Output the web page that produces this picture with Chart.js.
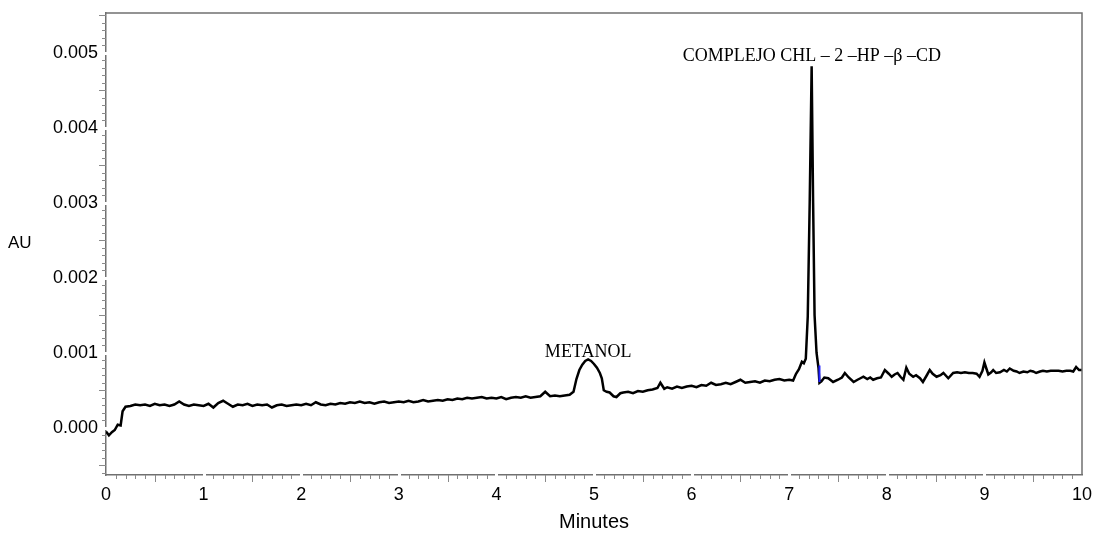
<!DOCTYPE html>
<html>
<head>
<meta charset="utf-8">
<script src="https://cdn.jsdelivr.net/npm/chart.js@4/dist/chart.umd.min.js"></script>
<style>
html, body { margin: 0; padding: 0; background: #fff; }
</style>
</head>
<body>
<canvas id="chart" width="1095" height="533"></canvas>
<script>
// retention time (min) and absorbance (AU)
var minutes = [
  0, 0.03, 0.06, 0.09, 0.12, 0.15, 0.17, 0.20, 0.25, 0.30,
  0.35, 0.40, 0.45, 0.50, 0.55, 0.60, 0.65, 0.70, 0.75, 0.80,
  0.85, 0.90, 0.95, 1.00, 1.05, 1.10, 1.15, 1.20, 1.25, 1.30,
  1.35, 1.40, 1.45, 1.50, 1.55, 1.60, 1.65, 1.70, 1.75, 1.80,
  1.85, 1.90, 1.95, 2.00, 2.05, 2.10, 2.15, 2.20, 2.25, 2.30,
  2.35, 2.40, 2.45, 2.50, 2.55, 2.60, 2.65, 2.70, 2.75, 2.80,
  2.85, 2.90, 2.95, 3.00, 3.05, 3.10, 3.15, 3.20, 3.25, 3.30,
  3.35, 3.40, 3.45, 3.50, 3.55, 3.60, 3.65, 3.70, 3.75, 3.80,
  3.85, 3.90, 3.95, 4.00, 4.05, 4.10, 4.15, 4.20, 4.25, 4.30,
  4.35, 4.40, 4.45, 4.50, 4.55, 4.60, 4.65, 4.70, 4.75, 4.79,
  4.82, 4.85, 4.88, 4.91, 4.94, 4.97, 5.00, 5.03, 5.06, 5.08,
  5.10, 5.13, 5.16, 5.20, 5.23, 5.27, 5.30, 5.35, 5.40, 5.45,
  5.50, 5.55, 5.60, 5.65, 5.68, 5.72, 5.75, 5.80, 5.85, 5.90,
  5.95, 6.00, 6.05, 6.10, 6.15, 6.20, 6.25, 6.30, 6.35, 6.40,
  6.45, 6.50, 6.55, 6.60, 6.65, 6.70, 6.75, 6.80, 6.85, 6.90,
  6.95, 7.00, 7.04, 7.07, 7.10, 7.13, 7.15, 7.17, 7.19, 7.21,
  7.23, 7.245, 7.26, 7.28, 7.30, 7.31, 7.33, 7.36, 7.40, 7.45,
  7.50, 7.54, 7.57, 7.61, 7.66, 7.70, 7.73, 7.76, 7.80, 7.83,
  7.86, 7.90, 7.94, 7.98, 8.02, 8.05, 8.08, 8.11, 8.14, 8.17,
  8.20, 8.23, 8.27, 8.30, 8.34, 8.37, 8.41, 8.44, 8.47, 8.51,
  8.55, 8.58, 8.63, 8.68, 8.72, 8.76, 8.80, 8.84, 8.88, 8.92,
  8.95, 8.98, 9.00, 9.02, 9.04, 9.07, 9.09, 9.12, 9.16, 9.20,
  9.23, 9.26, 9.30, 9.33, 9.36, 9.40, 9.44, 9.47, 9.50, 9.53,
  9.57, 9.60, 9.64, 9.68, 9.72, 9.76, 9.80, 9.84, 9.88, 9.91,
  9.94, 9.97, 10.00
];
var absorbance = [
  -0.00005, -0.00010, -0.00006, -0.00003, 0.00004, 0.00003, 0.00022, 0.00028, 0.00029, 0.00031,
  0.00030, 0.00031, 0.00029, 0.00032, 0.00030, 0.00031, 0.00029, 0.00031, 0.00035, 0.00031,
  0.00029, 0.00031, 0.00030, 0.00029, 0.00032, 0.00027, 0.00033, 0.00036, 0.00032, 0.00028,
  0.00031, 0.00030, 0.00032, 0.00029, 0.00031, 0.00030, 0.00031, 0.00027, 0.00030, 0.00031,
  0.00029, 0.00030, 0.00031, 0.00030, 0.00032, 0.00030, 0.00034, 0.00031, 0.00030, 0.00032,
  0.00031, 0.00033, 0.00032, 0.00034, 0.00033, 0.00035, 0.00033, 0.00034, 0.00032, 0.00034,
  0.00035, 0.00033, 0.00034, 0.00035, 0.00034, 0.00036, 0.00034, 0.00035, 0.00037, 0.00035,
  0.00036, 0.00037, 0.00036, 0.00038, 0.00037, 0.00039, 0.00038, 0.00040, 0.00039, 0.00040,
  0.00041, 0.00039, 0.00040, 0.00039, 0.00041, 0.00038, 0.00040, 0.00041, 0.00040, 0.00042,
  0.00040, 0.00041, 0.00042, 0.00048, 0.00042, 0.00043, 0.00042, 0.00043, 0.00044, 0.00048,
  0.00065, 0.00077, 0.00084, 0.00089, 0.00091, 0.00089, 0.00085, 0.00080, 0.00073, 0.00066,
  0.00050, 0.00048, 0.00047, 0.00042, 0.00041, 0.00046, 0.00047, 0.00048, 0.00046, 0.00049,
  0.00048, 0.00050, 0.00051, 0.00053, 0.00060, 0.00052, 0.00054, 0.00052, 0.00055, 0.00053,
  0.00055, 0.00056, 0.00054, 0.00057, 0.00056, 0.00060, 0.00057, 0.00058, 0.00060, 0.00058,
  0.00061, 0.00064, 0.00060, 0.00061, 0.00062, 0.00060, 0.00063, 0.00062, 0.00064, 0.00065,
  0.00063, 0.00064, 0.00063, 0.00072, 0.00078, 0.00088, 0.00086, 0.00092, 0.00148, 0.00300,
  0.00482, 0.00300, 0.00150, 0.00100, 0.00080, 0.00060, 0.00062, 0.00067, 0.00066, 0.00061,
  0.00064, 0.00067, 0.00073, 0.00067, 0.00061, 0.00064, 0.00066, 0.00068, 0.00065, 0.00067,
  0.00064, 0.00066, 0.00067, 0.00077, 0.00072, 0.00068, 0.00071, 0.00073, 0.00068, 0.00064,
  0.00080, 0.00072, 0.00068, 0.00070, 0.00066, 0.00061, 0.00070, 0.00077, 0.00072, 0.00068,
  0.00070, 0.00073, 0.00066, 0.00073, 0.00074, 0.00073, 0.00074, 0.00073, 0.00073, 0.00072,
  0.00068, 0.00076, 0.00087, 0.00079, 0.00071, 0.00074, 0.00077, 0.00073, 0.00074, 0.00077,
  0.00075, 0.00079, 0.00076, 0.00075, 0.00073, 0.00075, 0.00074, 0.00076, 0.00075, 0.00073,
  0.00075, 0.00076, 0.00075, 0.00076, 0.00076, 0.00076, 0.00075, 0.00076, 0.00076, 0.00075,
  0.00081, 0.00077, 0.00077
];

// small blue integration mark at the end of the main peak
var markMinutes = [7.31, 7.31];
var markAU = [0.00083, 0.00061];

// axis ticks
var yTicks = [0, 0.001, 0.002, 0.003, 0.004, 0.005];
var xTicks = [0, 1, 2, 3, 4, 5, 6, 7, 8, 9, 10];

// peak labels: text, minutes, AU (text anchor)
var peakNames = ['METANOL', 'COMPLEJO CHL \u2013 2 \u2013HP \u2013\u03b2 \u2013CD'];
var peakMinutes = [4.94, 5.91];
var peakAU = [0.00092, 0.00489];

var axisGray = '#707070';
var sans = '"Liberation Sans", Arial, Helvetica, sans-serif';
var serif = '"Liberation Serif", "Times New Roman", serif';

var trace = minutes.map(function (t, i) { return { x: t, y: absorbance[i] }; });
var mark = markMinutes.map(function (t, i) { return { x: t, y: markAU[i] }; });

var decorPlugin = {
  id: 'decor',
  afterDraw: function (chart) {
    var ctx = chart.ctx;
    var a = chart.chartArea;
    var xs = chart.scales.x, ys = chart.scales.y;
    ctx.save();

    // top + right frame
    ctx.strokeStyle = axisGray;
    ctx.lineWidth = 1.5;
    ctx.beginPath();
    ctx.moveTo(a.left, a.top);
    ctx.lineTo(a.right, a.top);
    ctx.lineTo(a.right, a.bottom);
    ctx.stroke();

    // minor ticks
    ctx.strokeStyle = '#8a8a8a';
    ctx.lineWidth = 1;
    for (var k = -6; k <= 55; k++) {
      var v = k * 0.0001;
      if (v < ys.min || v > ys.max) continue;
      var py = Math.round(ys.getPixelForValue(v)) + 0.5;
      if (k % 10 === 0) {
        ctx.fillStyle = '#fff';
        ctx.fillRect(a.left - 2, py - 1.5, 4, 3);
        continue;
      }
      var len = (k % 5 === 0) ? 7 : 4;
      ctx.beginPath();
      ctx.moveTo(a.left - len, py);
      ctx.lineTo(a.left, py);
      ctx.stroke();
    }
    for (var j = 0; j <= 100; j++) {
      var px = Math.round(xs.getPixelForValue(j / 10)) + 0.5;
      if (j % 10 === 0) {
        if (j > 0 && j < 100) {
          ctx.fillStyle = '#fff';
          ctx.fillRect(px - 1.5, a.bottom - 2, 3, 4);
        }
        continue;
      }
      var l = (j % 5 === 0) ? 7 : 4;
      ctx.beginPath();
      ctx.moveTo(px, a.bottom);
      ctx.lineTo(px, a.bottom + l);
      ctx.stroke();
    }

    // axis titles
    ctx.fillStyle = '#000';
    ctx.font = '17px ' + sans;
    ctx.textAlign = 'left';
    ctx.textBaseline = 'middle';
    ctx.fillText('AU', 8, 243);
    ctx.font = '20px ' + sans;
    ctx.textAlign = 'center';
    ctx.fillText('Minutes', (a.left + a.right) / 2, 522);

    // peak labels
    ctx.font = '18px ' + serif;
    ctx.textBaseline = 'alphabetic';
    ctx.textAlign = 'center';
    ctx.fillText(peakNames[0], xs.getPixelForValue(peakMinutes[0]), ys.getPixelForValue(peakAU[0]) - 2);
    ctx.textAlign = 'left';
    ctx.fillText(peakNames[1], xs.getPixelForValue(peakMinutes[1]), ys.getPixelForValue(peakAU[1]));
    ctx.restore();
  }
};

new Chart(document.getElementById('chart'), {
  type: 'line',
  data: {
    datasets: [
      { data: mark, borderColor: '#2020ff', borderWidth: 2, pointRadius: 0 },
      { data: trace, borderColor: '#000', borderWidth: 2.5, pointRadius: 0, tension: 0 }
    ]
  },
  options: {
    responsive: false,
    animation: false,
    layout: { padding: { top: 13, right: 13, left: 0, bottom: 0 } },
    plugins: { legend: { display: false }, tooltip: { enabled: false } },
    scales: {
      x: {
        type: 'linear', min: 0, max: 10,
        afterBuildTicks: function (s) { s.ticks = xTicks.map(function (v) { return { value: v }; }); },
        ticks: { color: '#000', font: { family: sans, size: 18 }, padding: 9, maxRotation: 0, autoSkip: false },
        grid: { display: false, drawTicks: false },
        border: { display: true, color: axisGray, width: 1.5 },
        afterFit: function (s) { s.height = 58; s.paddingLeft = 0; s.paddingRight = 0; }
      },
      y: {
        type: 'linear', min: -0.00063, max: 0.00553,
        afterBuildTicks: function (s) { s.ticks = yTicks.map(function (v) { return { value: v }; }); },
        ticks: {
          color: '#000', font: { family: sans, size: 18 }, padding: 8,
          callback: function (v) { return Number(v).toFixed(3); }
        },
        grid: { display: false, drawTicks: false },
        border: { display: true, color: axisGray, width: 1.5 },
        afterFit: function (s) { s.width = 106; s.paddingTop = 0; s.paddingBottom = 0; }
      }
    }
  },
  plugins: [decorPlugin]
});
</script>
</body>
</html>
